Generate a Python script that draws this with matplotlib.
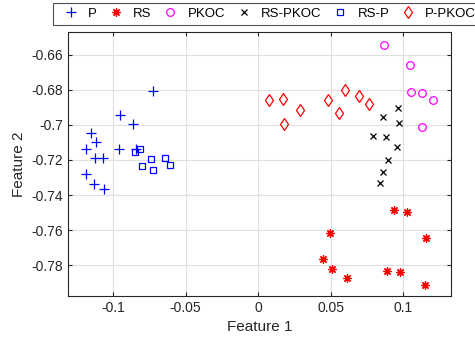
import matplotlib
matplotlib.use("Agg")
import matplotlib.pyplot as plt

plt.rcParams['font.family'] = ['Liberation Sans', 'DejaVu Sans']

# class clusters (Feature 1, Feature 2)
p_x = [-0.0722, -0.0952, -0.0860, -0.1152, -0.1119, -0.1186, -0.0956, -0.1124,
       -0.1067, -0.1186, -0.1131, -0.1060, -0.0841]
p_y = [-0.6810, -0.6943, -0.6994, -0.7047, -0.7099, -0.7139, -0.7139, -0.7187,
       -0.7187, -0.7280, -0.7337, -0.7366, -0.7139]

rs_x = [0.0938, 0.1026, 0.0499, 0.1159, 0.0446, 0.0508, 0.0616, 0.0892, 0.0975, 0.1154]
rs_y = [-0.7487, -0.7499, -0.7615, -0.7644, -0.7766, -0.7819, -0.7870, -0.7833, -0.7840, -0.7910]

pkoc_x = [0.0871, 0.1050, 0.1057, 0.1129, 0.1209, 0.1133]
pkoc_y = [-0.6543, -0.6657, -0.6815, -0.6819, -0.6857, -0.7015]

rspkoc_x = [0.0963, 0.0864, 0.0970, 0.0793, 0.0881, 0.0956, 0.0894, 0.0864, 0.0841]
rspkoc_y = [-0.6905, -0.6958, -0.6992, -0.7063, -0.7070, -0.7124, -0.7202, -0.7267, -0.7333]

rsp_x = [-0.0814, -0.0848, -0.0740, -0.0641, -0.0607, -0.0798, -0.0726]
rsp_y = [-0.7135, -0.7156, -0.7196, -0.7190, -0.7229, -0.7234, -0.7257]

ppkoc_x = [0.0076, 0.0175, 0.0290, 0.0179, 0.0481, 0.0600, 0.0556, 0.0697, 0.0768]
ppkoc_y = [-0.6859, -0.6853, -0.6916, -0.6994, -0.6857, -0.6800, -0.6933, -0.6834, -0.6882]

xticks = [-0.1, -0.05, 0, 0.05, 0.1]
xticklabels = ['-0.1', '-0.05', '0', '0.05', '0.1']
yticks = [-0.78, -0.76, -0.74, -0.72, -0.7, -0.68, -0.66]
yticklabels = ['-0.78', '-0.76', '-0.74', '-0.72', '-0.7', '-0.68', '-0.66']

fig = plt.figure(figsize=(4.75, 3.46), dpi=100)
ax = fig.add_axes([0.1432, 0.1445, 0.8063, 0.7621])

mew = 0.9
ax.plot(p_x, p_y, '+', color='#0000ff', ms=7, mew=mew, label='P')
ax.plot(rs_x, rs_y, ls='none', marker=(8, 2, 0), color='#ff0000', ms=6, mew=mew, label='RS')
ax.plot(pkoc_x, pkoc_y, 'o', mfc='none', mec='#ff00ff', ms=5.5, mew=mew, label='PKOC')
ax.plot(rspkoc_x, rspkoc_y, 'x', color='black', ms=5, mew=mew, label='RS-PKOC')
ax.plot(rsp_x, rsp_y, 's', mfc='none', mec='#0000ff', ms=4.5, mew=mew, label='RS-P')
ax.plot(ppkoc_x, ppkoc_y, 'd', mfc='none', mec='#ff0000', ms=6.5, mew=mew, label='P-PKOC')

ax.set_xlim(-0.131, 0.133)
ax.set_ylim(-0.7975, -0.6473)
ax.set_xticks(xticks)
ax.set_xticklabels(xticklabels)
ax.set_yticks(yticks)
ax.set_yticklabels(yticklabels)
ax.grid(True, color='#e0e0e0', lw=0.8)
ax.set_axisbelow(True)
ax.tick_params(direction='in', top=True, right=True, length=3, labelsize=10,
               colors='#262626', width=0.8)
for s in ax.spines.values():
    s.set_color('#262626')
    s.set_linewidth(0.8)
ax.set_xlabel('Feature 1', fontsize=11, color='#262626')
ax.set_ylabel('Feature 2', fontsize=11, color='#262626')

leg = fig.legend(loc='upper left', bbox_to_anchor=(53 / 475, 1 - 3 / 346), ncol=6,
                 fontsize=9.5, frameon=True, fancybox=False, handlelength=2.0,
                 handletextpad=0.29, columnspacing=0.44, borderpad=0.36,
                 borderaxespad=0)
leg.get_frame().set_edgecolor('#262626')
leg.get_frame().set_linewidth(0.8)

plt.savefig('out.png', dpi=100)
